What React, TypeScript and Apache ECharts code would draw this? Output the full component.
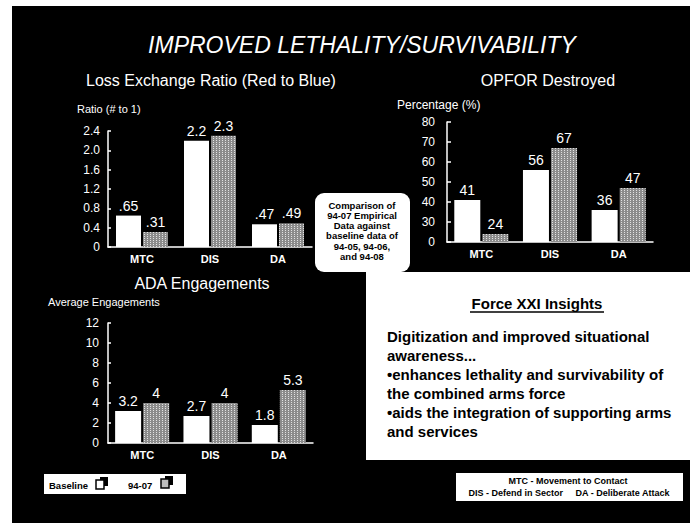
import React, { useEffect, useRef } from 'react';
import * as echarts from 'echarts';

const categories = ['MTC', 'DIS', 'DA'];
const lossBaseline = [0.65, 2.2, 0.47];
const loss9407 = [0.31, 2.3, 0.49];
const opforBaseline = [41, 56, 36];
const opfor9407 = [24, 67, 47];
const adaBaseline = [3.2, 2.7, 1.8];
const ada9407 = [4, 4, 5.3];

const mainTitle = 'IMPROVED LETHALITY/SURVIVABILITY';
const chartTitles = ['Loss Exchange Ratio (Red to Blue)', 'OPFOR Destroyed', 'ADA Engagements'];
const axisNames = ['Ratio (# to 1)', 'Percentage (%)', 'Average Engagements'];
const comparisonLines = ['Comparison of', '94-07 Empirical', 'Data against', 'baseline data of', '94-05, 94-06,', 'and 94-08'];
const insightTitle = 'Force XXI Insights';
const insightLines = [
  'Digitization and improved situational',
  'awareness...',
  '•enhances lethality and survivability of',
  'the combined arms force',
  '•aids the integration of supporting arms',
  'and services',
];
const legendNames = ['Baseline', '94-07'];
const abbrevLine1 = 'MTC - Movement to Contact';
const abbrevLine2 = 'DIS - Defend in Sector     DA - Deliberate Attack';

const FONT = 'Liberation Sans, Arial, Helvetica, sans-serif';
const PATTERN_BASE = '#8c8c8c';

const patternStyle = {
  color: PATTERN_BASE,
  decal: {
    symbol: 'rect',
    symbolSize: 1,
    color: 'rgba(235,235,235,0.9)',
    dashArrayX: [1, 2],
    dashArrayY: [1, 1],
    rotation: 0,
  },
};
const whiteStyle = { color: '#ffffff', decal: { symbol: 'none' } };

function fmtRatio(v: number) {
  return v < 1 ? String(v).replace(/^0/, '') : String(v);
}

export default function App() {
  const ref = useRef<HTMLDivElement>(null);
  useEffect(() => {
    if (!ref.current) return;
    const chart = echarts.init(ref.current, undefined, { renderer: 'svg' });

    const barLabel = (fmt?: (v: number) => string) => ({
      show: true,
      position: 'top',
      distance: 3,
      color: '#ffffff',
      fontSize: 14,
      fontFamily: FONT,
      formatter: (p: any) => (fmt ? fmt(p.value) : String(p.value)),
    });

    const xAxisBase = (gridIndex: number) => ({
      type: 'category',
      gridIndex,
      data: categories,
      axisLine: { show: true, lineStyle: { color: '#ffffff', width: 1.5 } },
      axisTick: { show: false },
      axisLabel: { color: '#ffffff', fontSize: 11, fontWeight: 'bold', fontFamily: FONT, margin: 6 },
      splitLine: { show: false },
    });

    const yAxisBase = (gridIndex: number, extra: any) => ({
      type: 'value',
      gridIndex,
      axisLine: { show: true, lineStyle: { color: '#ffffff', width: 1.5 } },
      axisTick: { show: true, inside: true, length: 3, lineStyle: { color: '#ffffff', width: 1.5 } },
      splitLine: { show: false },
      ...extra,
    });

    const txt = (text: string, x: number, y: number, font: string, fill: string, align = 'left') => ({
      type: 'text',
      z: 10,
      style: { text, x, y, font, fill, textAlign: align, textVerticalAlign: 'middle' },
    });

    const graphics: any[] = [
      { type: 'rect', z: -10, silent: true, shape: { x: 12, y: 6, width: 678, height: 517 }, style: { fill: '#000000' } },
      { type: 'rect', z: 5, shape: { x: 366, y: 272, width: 324, height: 188 }, style: { fill: '#ffffff' } },
      { type: 'rect', z: 5, shape: { x: 315, y: 193, width: 95, height: 79, r: 9 }, style: { fill: '#ffffff' } },
      { type: 'rect', z: 5, shape: { x: 44, y: 474, width: 142, height: 20 }, style: { fill: '#ffffff' } },
      { type: 'rect', z: 5, shape: { x: 456, y: 473, width: 227, height: 28 }, style: { fill: '#ffffff' } },
      txt(mainTitle, 362, 45, `italic 23px ${FONT}`, '#ffffff', 'center'),
      txt(chartTitles[0], 211, 80, `16px ${FONT}`, '#ffffff', 'center'),
      txt(chartTitles[1], 548, 80, `16px ${FONT}`, '#ffffff', 'center'),
      txt(chartTitles[2], 202, 283, `16px ${FONT}`, '#ffffff', 'center'),
      txt(axisNames[0], 77, 109, `11px ${FONT}`, '#ffffff'),
      txt(axisNames[1], 397, 105, `12px ${FONT}`, '#ffffff'),
      txt(axisNames[2], 48, 302, `11px ${FONT}`, '#ffffff'),
      txt(insightTitle, 537, 303, `bold 15px ${FONT}`, '#000000', 'center'),
      { type: 'line', z: 10, shape: { x1: 470, y1: 312, x2: 604, y2: 312 }, style: { stroke: '#000000', lineWidth: 1.3 } },
      txt(legendNames[0], 49, 485, `bold 9.5px ${FONT}`, '#000000'),
      txt(legendNames[1], 128, 485, `bold 9.5px ${FONT}`, '#000000'),
      { type: 'rect', z: 10, shape: { x: 100, y: 477, width: 8, height: 9 }, style: { fill: '#000000' } },
      { type: 'rect', z: 11, shape: { x: 96, y: 480, width: 8, height: 9 }, style: { fill: '#ffffff', stroke: '#000000', lineWidth: 1.5 } },
      { type: 'rect', z: 10, shape: { x: 165, y: 476, width: 8, height: 9 }, style: { fill: '#000000' } },
      { type: 'rect', z: 11, shape: { x: 161, y: 479, width: 8, height: 9 }, style: { fill: '#bdbdbd', stroke: '#000000', lineWidth: 1.5 } },
      txt(abbrevLine1, 568, 481, `bold 9px ${FONT}`, '#000000', 'center'),
      txt(abbrevLine2, 569, 493, `bold 9px ${FONT}`, '#000000', 'center'),
    ];
    comparisonLines.forEach((l, i) => {
      graphics.push(txt(l, 362, 205 + i * 10.3, `bold 9.5px ${FONT}`, '#000000', 'center'));
    });
    insightLines.forEach((l, i) => {
      graphics.push(txt(l, 387, 336 + i * 19, `bold 15px ${FONT}`, '#000000'));
    });

    const option: any = {
      animation: false,
      backgroundColor: '#ffffff',
      aria: { enabled: true, decal: { show: true } },
      grid: [
        { left: 108, top: 131, width: 204, height: 116 },
        { left: 447, top: 122, width: 206, height: 120 },
        { left: 108, top: 323, width: 205, height: 120 },
      ],
      xAxis: [xAxisBase(0), xAxisBase(1), xAxisBase(2)],
      yAxis: [
        yAxisBase(0, {
          min: 0, max: 2.4, interval: 0.4,
          axisLabel: { color: '#ffffff', fontSize: 12, fontFamily: FONT, margin: 8, formatter: (v: number) => (v === 0 ? '0' : v.toFixed(1)) },
        }),
        yAxisBase(1, {
          min: 20, max: 80, interval: 10,
          axisTick: { show: true, inside: true, length: 4, lineStyle: { color: '#ffffff', width: 1.5 } },
          axisLabel: { color: '#ffffff', fontSize: 12, fontFamily: FONT, margin: 12, formatter: (v: number) => (v === 20 ? '0' : String(v)) },
        }),
        yAxisBase(2, {
          min: 0, max: 12, interval: 2,
          axisLabel: { color: '#ffffff', fontSize: 12, fontFamily: FONT, margin: 9 },
        }),
      ],
      series: [
        { type: 'bar', name: 'Baseline', xAxisIndex: 0, yAxisIndex: 0, data: lossBaseline, barWidth: 25, barGap: '8%', itemStyle: whiteStyle, label: barLabel(fmtRatio) },
        { type: 'bar', name: '94-07', xAxisIndex: 0, yAxisIndex: 0, data: loss9407, barWidth: 25, barGap: '8%', itemStyle: patternStyle, label: barLabel(fmtRatio) },
        { type: 'bar', name: 'Baseline', xAxisIndex: 1, yAxisIndex: 1, data: opforBaseline, barWidth: 26, barGap: '8%', itemStyle: whiteStyle, label: barLabel() },
        { type: 'bar', name: '94-07', xAxisIndex: 1, yAxisIndex: 1, data: opfor9407, barWidth: 26, barGap: '8%', itemStyle: patternStyle, label: barLabel() },
        { type: 'bar', name: 'Baseline', xAxisIndex: 2, yAxisIndex: 2, data: adaBaseline, barWidth: 26, barGap: '8%', itemStyle: whiteStyle, label: barLabel() },
        { type: 'bar', name: '94-07', xAxisIndex: 2, yAxisIndex: 2, data: ada9407, barWidth: 26, barGap: '8%', itemStyle: patternStyle, label: barLabel() },
      ],
      graphic: graphics,
    };
    chart.setOption(option);
    return () => chart.dispose();
  }, []);
  return <div ref={ref} style={{ position: 'absolute', left: 0, top: 0, width: 690, height: 523 }} />;
}
